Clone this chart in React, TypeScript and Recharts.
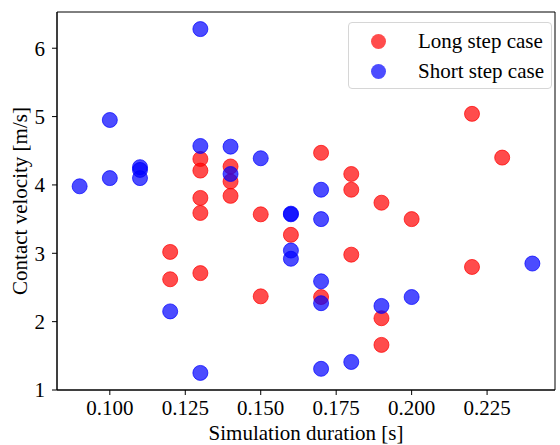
import { Label, Legend, ReferenceArea, Scatter, ScatterChart, XAxis, YAxis } from "recharts";

// Simulation duration [s] / contact velocity [m/s].
const longDuration = [
  0.12, 0.12, 0.13, 0.13, 0.13, 0.13, 0.13, 0.14, 0.14, 0.14, 0.15, 0.15, 0.16, 0.17, 0.17, 0.18, 0.18, 0.18, 0.19,
  0.19, 0.19, 0.2, 0.22, 0.22, 0.23,
];
const longVelocity = [
  3.02, 2.62, 4.38, 4.21, 3.81, 3.59, 2.71, 4.27, 4.05, 3.84, 3.57, 2.37, 3.27, 4.47, 2.36, 4.16, 3.93, 2.98, 3.74,
  2.05, 1.66, 3.5, 5.04, 2.8, 4.4,
];
const shortDuration = [
  0.09, 0.1, 0.1, 0.11, 0.11, 0.11, 0.12, 0.13, 0.13, 0.13, 0.14, 0.14, 0.15, 0.16, 0.16, 0.16, 0.16, 0.17, 0.17, 0.17,
  0.17, 0.17, 0.18, 0.19, 0.2, 0.24,
];
const shortVelocity = [
  3.98, 4.95, 4.1, 4.26, 4.22, 4.1, 2.15, 6.28, 4.57, 1.25, 4.56, 4.16, 4.39, 3.58, 3.57, 3.04, 2.92, 3.93, 3.5, 2.59,
  2.27, 1.31, 1.41, 2.23, 2.36, 2.85,
];

const xTicks = [0.1, 0.125, 0.15, 0.175, 0.2, 0.225];
const yTicks = [1, 2, 3, 4, 5, 6];

const FONT = "'Liberation Serif', 'DejaVu Serif', serif";
const FS = 21;
const RED = "#ff0000";
const BLUE = "#0000ff";

const longRows = longDuration.map((x, i) => ({ x, y: longVelocity[i] }));
const shortRows = shortDuration.map((x, i) => ({ x, y: shortVelocity[i] }));

const legendItems = [
  { label: "Long step case", color: RED },
  { label: "Short step case", color: BLUE },
];

function dot(color: string) {
  return (p: { cx?: number; cy?: number }) => (
    <circle cx={p.cx} cy={p.cy} r={7.5} fill={color} fillOpacity={0.7} stroke={color} strokeOpacity={0.7} strokeWidth={1} />
  );
}

function LegendBox() {
  return (
    <div
      style={{
        width: 204,
        height: 67,
        boxSizing: "border-box",
        background: "#fff",
        border: "1px solid #d6d6d6",
        borderRadius: 4,
        fontFamily: FONT,
        fontSize: FS,
        color: "#000",
        paddingTop: 3,
      }}
    >
      {legendItems.map((it) => (
        <div key={it.label} style={{ display: "flex", alignItems: "center", height: 30 }}>
          <span
            style={{
              width: 15,
              height: 15,
              flexShrink: 0,
              borderRadius: "50%",
              background: it.color,
              opacity: 0.7,
              marginLeft: 22,
              marginRight: 32,
            }}
          />
          <span style={{ whiteSpace: "nowrap" }}>{it.label}</span>
        </div>
      ))}
    </div>
  );
}

const tickStyle = { fill: "#000", fontSize: FS, fontFamily: FONT };

export default function App() {
  return (
    <div style={{ position: "absolute", left: 0, top: 0, background: "#fff" }}>
      <ScatterChart width={560} height={445} margin={{ top: 12, right: 5, bottom: 0, left: 0 }}>
        <XAxis
          type="number"
          dataKey="x"
          domain={[0.0825, 0.2475]}
          ticks={xTicks}
          tickFormatter={(v: number) => v.toFixed(3)}
          allowDataOverflow
          height={55}
          tickSize={5}
          tickMargin={5}
          stroke="#000"
          tick={tickStyle}
        >
          <Label
            content={({ viewBox }) => {
              const vb = viewBox as { x: number; y: number; width: number };
              return (
                <text x={vb.x + vb.width / 2} y={440} textAnchor="middle" fontFamily={FONT} fontSize={FS} fill="#000">
                  Simulation duration [s]
                </text>
              );
            }}
          />
        </XAxis>
        <YAxis
          type="number"
          dataKey="y"
          domain={[1, 6.53]}
          ticks={yTicks}
          allowDataOverflow
          width={57}
          tickSize={5}
          tickMargin={7}
          stroke="#000"
          tick={tickStyle}
        >
          <Label
            content={({ viewBox }) => {
              const vb = viewBox as { x: number; y: number; height: number };
              const cy = vb.y + vb.height / 2;
              return (
                <text
                  x={27}
                  y={cy}
                  transform={`rotate(-90 27 ${cy})`}
                  textAnchor="middle"
                  fontFamily={FONT}
                  fontSize={FS}
                  fill="#000"
                >
                  Contact velocity [m/s]
                </text>
              );
            }}
          />
        </YAxis>
        <ReferenceArea x1={0.0825} x2={0.2475} y1={1} y2={6.53} fill="none" stroke="#000" strokeWidth={1} />
        <Scatter name="Long step case" data={longRows} shape={dot(RED)} isAnimationActive={false} />
        <Scatter name="Short step case" data={shortRows} shape={dot(BLUE)} isAnimationActive={false} />
        <Legend
          layout="vertical"
          align="center"
          verticalAlign="middle"
          content={() => <LegendBox />}
          wrapperStyle={{ position: "absolute", top: 22, left: 348, width: 204 }}
        />
      </ScatterChart>
    </div>
  );
}
